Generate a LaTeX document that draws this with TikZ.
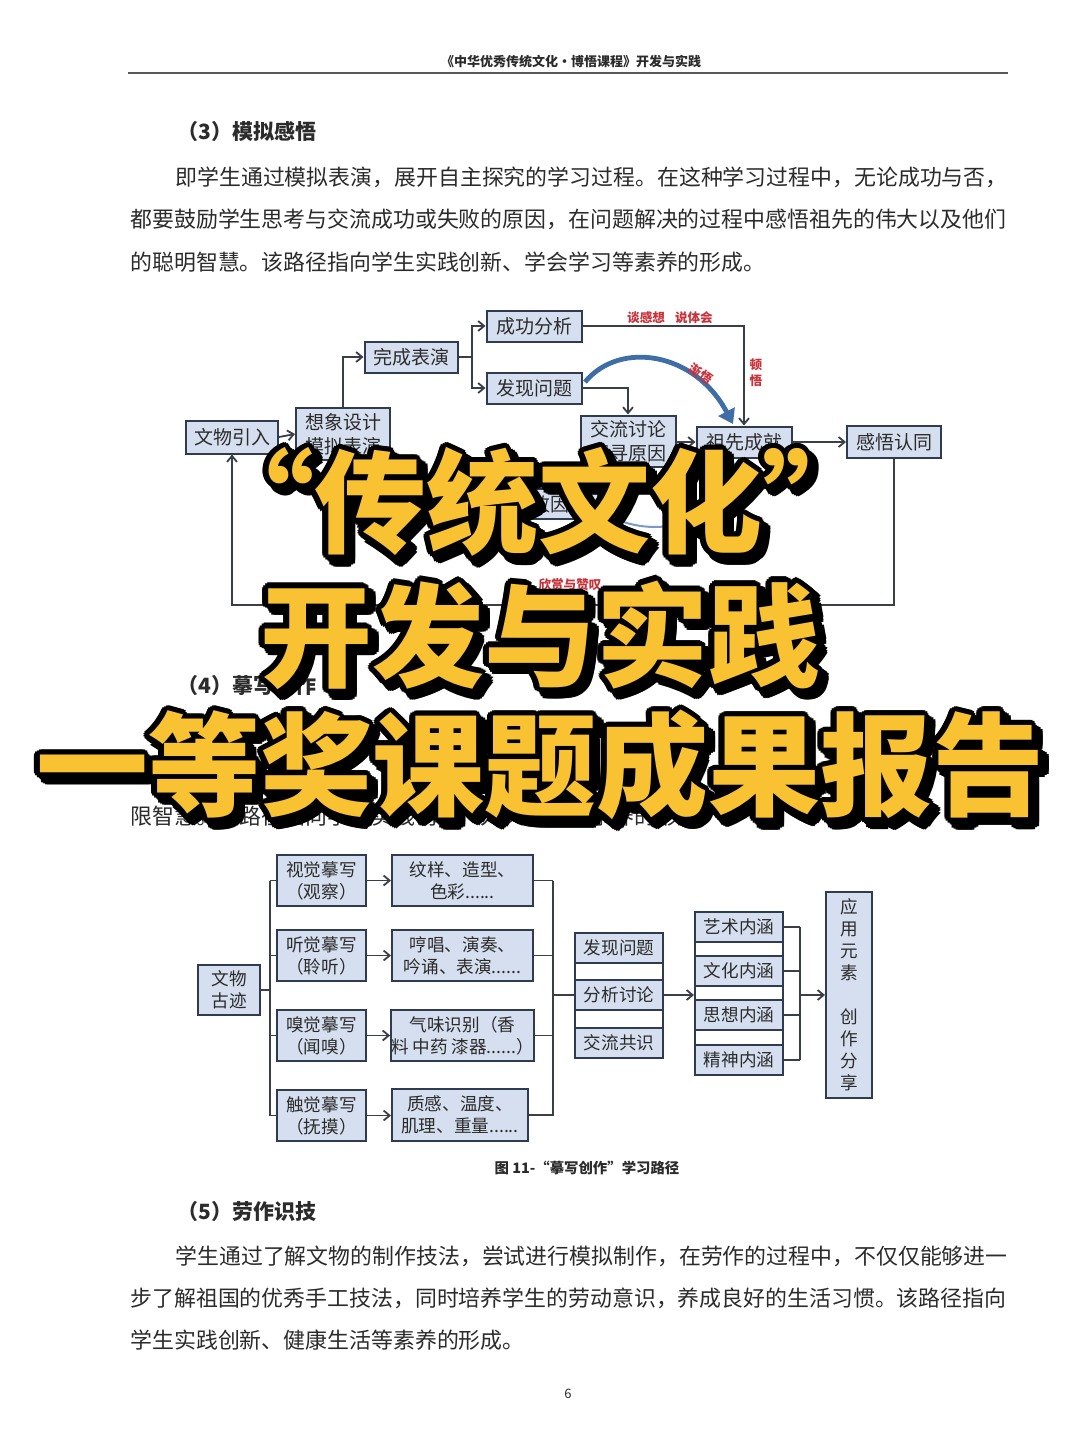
\documentclass[tikz,border=0pt]{standalone}
\usepackage{fontspec}
\setmainfont{Noto Sans CJK SC}
\usetikzlibrary{arrows.meta,calc}
\definecolor{boxfill}{HTML}{D5DFEF}
\definecolor{boxline}{HTML}{2E3B50}
\definecolor{lineclr}{HTML}{3A3F47}
\definecolor{txt}{HTML}{2B2B2B}
\definecolor{labred}{HTML}{C8323A}
\definecolor{ttlyellow}{HTML}{F8C232}
\definecolor{arcblue}{HTML}{3F6EA6}
\tikzset{
  bx/.style={draw=boxline, fill=boxfill, line width=1pt, inner sep=0pt, align=center,
    font=\fontsize{9.5}{12}\selectfont, text=txt},
  bxs/.style={bx, font=\fontsize{8.8}{11}\selectfont},
  frame/.style={draw=boxline, line width=1pt, inner sep=0pt, fill=white},
  conn/.style={draw=lineclr, line width=0.9pt},
  arr/.style={conn, -{Straight Barb[length=3pt,width=5pt]}},
  body/.style={anchor=west, inner sep=0pt, text=txt, font=\fontsize{10.95}{13}\selectfont},
  head/.style={anchor=west, inner sep=0pt, text=txt, font=\fontsize{10.5}{13}\selectfont\bfseries},
  redlabel/.style={text=labred, inner sep=0pt, font=\fontsize{6.3}{7}\selectfont\bfseries},
  ttl/.style={inner sep=0pt, font=\fontsize{56}{60}\selectfont\bfseries},
}
\newcommand{\ovl}[4]{%
  \foreach \a in {0,24,...,336}{
    \node[ttl,text=black,xshift={3pt+2.9pt*cos(\a)},yshift={-3pt+2.9pt*sin(\a)}] at (#1,#2) {#3};
  }
  \foreach \a in {0,24,...,336}{
    \node[ttl,text=black,xshift={2.7pt*cos(\a)},yshift={2.7pt*sin(\a)}] at (#1,#2) {#3};
  }
  \node[ttl,text=ttlyellow] (#4) at (#1,#2) {#3};
}
\begin{document}
\begin{tikzpicture}[x=0.5pt,y=-0.5pt]
\useasboundingbox[fill=white] (0,0) rectangle (1080,1456);

% header
\node[inner sep=0pt, text=txt, font=\fontsize{6.5}{8}\selectfont\bfseries] (hdr) at (571,62) {《中华优秀传统文化·博悟课程》开发与实践};
\draw[line width=1pt, color=black!65] (128,73) -- (1008,73);

% section 3
\node[head] (h3) at (177,132) {（3）模拟感悟};
\node[body] (p31) at (175,177) {即学生通过模拟表演，展开自主探究的学习过程。在这种学习过程中，无论成功与否，};
\node[body] (p32) at (130,219) {都要鼓励学生思考与交流成功或失败的原因，在问题解决的过程中感悟祖先的伟大以及他们};
\node[body] (p33) at (130,262) {的聪明智慧。该路径指向学生实践创新、学会学习等素养的形成。};

% upper diagram
\node[bx, minimum width=46pt, minimum height=16.5pt] (wwyr) at (232,437) {文物引入};
\node[bx, minimum width=47pt, minimum height=26pt] (xxsj) at (343,434) {想象设计\\模拟表演};
\node[bx, minimum width=46.5pt, minimum height=15.5pt] (wcby) at (411,357) {完成表演};
\node[bx, minimum width=47.5pt, minimum height=15.5pt] (cgfx) at (534,326) {成功分析};
\node[bx, minimum width=47.5pt, minimum height=15.5pt] (fxwt) at (534,388) {发现问题};
\node[bx, minimum width=47.5pt, minimum height=25.5pt] (jltl) at (628,441) {交流讨论\\探寻原因};
\node[bx, minimum width=47.5pt, minimum height=15.5pt] (zxcj) at (744,442) {祖先成就};
\node[bx, minimum width=47pt, minimum height=16pt] (gwrt) at (894,442) {感悟认同};
\node[bx, minimum width=86.5pt, minimum height=15pt] (sbyy) at (511,504) {};
\node[inner sep=0pt, text=txt, font=\fontsize{9.5}{12}\selectfont] (sbyyt) at (550,504) {败因};

\draw[arr] (wwyr.east) -- (xxsj.west);
\draw[arr] (xxsj.north) |- (wcby.west);
\coordinate (br1) at (472,357);
\draw[conn] (wcby.east) -- (br1);
\draw[arr] (br1) |- (cgfx.west);
\draw[arr] (br1) |- (fxwt.west);
\draw[arr] (cgfx.east) -| (zxcj.north);
\draw[arr] (fxwt.east) -| (jltl.north);
\draw[arr] (jltl.east |- zxcj.west) -- (zxcj.west);
\draw[arr] (zxcj.east) -- (gwrt.west);
\coordinate (loopL) at (232,605);
\draw[arr] (gwrt.south) |- (loopL) -- (wwyr.south);

\coordinate (arcS) at (585,382);
\coordinate (arcE) at (733,424);
\draw[arcblue, line width=2.4pt, -{Triangle[length=7pt,width=9pt]}] (arcS) .. controls (620,340) and (695,352) .. (arcE);
\coordinate (arc2S) at (600,512);
\coordinate (arc2E) at (735,462);
\draw[arcblue!70, line width=1pt, -{Triangle[length=5pt,width=6pt]}] (arc2S) .. controls (660,545) and (720,520) .. (arc2E);

\node[redlabel] (l1) at (670,318) {谈感想\hspace{0.8em}说体会};
\node[redlabel, align=center, font=\fontsize{6.3}{8}\selectfont\bfseries] (l2) at (756,373) {顿\\悟};
\node[redlabel, rotate=-35] (l3) at (701,374) {渐悟};
\node[redlabel] (l4) at (570,585) {欣赏与赞叹};

% section 4
\node[head] (h4) at (177,686) {（4）摹写创作};
\node[body] (p43) at (130,816) {限智慧。该路径指向学生实践创新、人文底蕴等素养的形成。};

% lower diagram
\node[bxs, minimum width=31pt, minimum height=25pt] (wwgj) at (229,990) {文物\\古迹};
\node[bxs, minimum width=44.5pt, minimum height=25.5pt] (s1) at (321.5,880.5) {视觉摹写\\（观察）};
\node[bxs, minimum width=44.5pt, minimum height=25.5pt] (s2) at (321.5,955.5) {听觉摹写\\（聆听）};
\node[bxs, minimum width=44.5pt, minimum height=25.5pt] (s3) at (321.5,1035.5) {嗅觉摹写\\（闻嗅）};
\node[bxs, minimum width=44.5pt, minimum height=25.5pt] (s4) at (321.5,1115.5) {触觉摹写\\（抚摸）};
\node[bxs, minimum width=70.5pt, minimum height=25.5pt] (d1) at (462.5,880.5) {纹样、造型、\\色彩......};
\node[bxs, minimum width=70.5pt, minimum height=25.5pt] (d2) at (462.5,955.5) {哼唱、演奏、\\吟诵、表演......};
\node[bxs, minimum width=70.5pt, minimum height=25.5pt] (d3) at (462.5,1035.5) {气味识别（香\\料 中药 漆器......）};
\node[bxs, minimum width=68pt, minimum height=26pt] (d4) at (460,1115) {质感、温度、\\肌理、重量......};

\coordinate (tr) at (270,990);
\coordinate (t1) at (270,880.5);
\coordinate (t4) at (270,1115.5);
\draw[conn] (wwgj.east) -- (tr);
\draw[conn] (t1) -- (t4);
\foreach \i in {1,2,3,4}{
  \draw[conn] (s\i.west -| t1) -- (s\i.west);
  \draw[arr] (s\i.east) -- (d\i.west |- s\i.east);
}
\coordinate (r1) at (553,880.5);
\coordinate (r4) at (553,1115.5);
\draw[conn] (r1) -- (r4);
\foreach \i in {1,2,3,4}{
  \draw[conn] (d\i.east) -- (d\i.east -| r1);
}

\node[frame, minimum width=44pt, minimum height=62.5pt] (grp1) at (619,995.5) {};
\node[bxs, minimum width=44pt, minimum height=15pt] (m1) at (619,948) {发现问题};
\node[bxs, minimum width=44pt, minimum height=15pt] (m2) at (619,995) {分析讨论};
\node[bxs, minimum width=44pt, minimum height=15pt] (m3) at (619,1043) {交流共识};
\draw[conn] (m2.west -| r1) -- (m2.west);

\node[frame, minimum width=44pt, minimum height=81.5pt] (grp2) at (739,993.5) {};
\node[bxs, minimum width=44pt, minimum height=15pt] (n1) at (739,927) {艺术内涵};
\node[bxs, minimum width=44pt, minimum height=15pt] (n2) at (739,971) {文化内涵};
\node[bxs, minimum width=44pt, minimum height=15pt] (n3) at (739,1015) {思想内涵};
\node[bxs, minimum width=44pt, minimum height=15pt] (n4) at (739,1060) {精神内涵};
\draw[arr] (m2.east) -- (m2.east -| grp2.west);

\coordinate (q1) at (800,927);
\coordinate (q4) at (800,1060);
\draw[conn] (q1) -- (q4);
\foreach \i in {1,2,3,4}{
  \draw[conn] (n\i.east) -- (n\i.east -| q1);
}
\node[bxs, minimum width=23pt, minimum height=103pt, font=\fontsize{8.8}{11}\selectfont] (yyys) at (849,995) {应\\用\\元\\素\\[11pt]创\\作\\分\\享};
\coordinate (qm) at (800,995);
\draw[arr] (qm) -- (qm -| yyys.west);

\node[inner sep=0pt, text=txt, font=\fontsize{7.2}{9}\selectfont\bfseries] (cap) at (587,1168) {图 11-“摹写创作”学习路径};

% section 5
\node[head] (h5) at (177,1212) {（5）劳作识技};
\node[body] (p51) at (175,1256) {学生通过了解文物的制作技法，尝试进行模拟制作，在劳作的过程中，不仅仅能够进一};
\node[body] (p52) at (130,1298) {步了解祖国的优秀手工技法，同时培养学生的劳动意识，养成良好的生活习惯。该路径指向};
\node[body] (p53) at (130,1340) {学生实践创新、健康生活等素养的形成。};
\node[inner sep=0pt, text=txt, font=\fontsize{6.5}{8}\selectfont] (pg) at (568,1394) {6};

% overlay title
\ovl{538}{502}{“传统文化”}{t1n}
\ovl{540}{635}{开发与实践}{t2n}
\ovl{540}{765}{一等奖课题成果报告}{t3n}
\end{tikzpicture}
\end{document}
